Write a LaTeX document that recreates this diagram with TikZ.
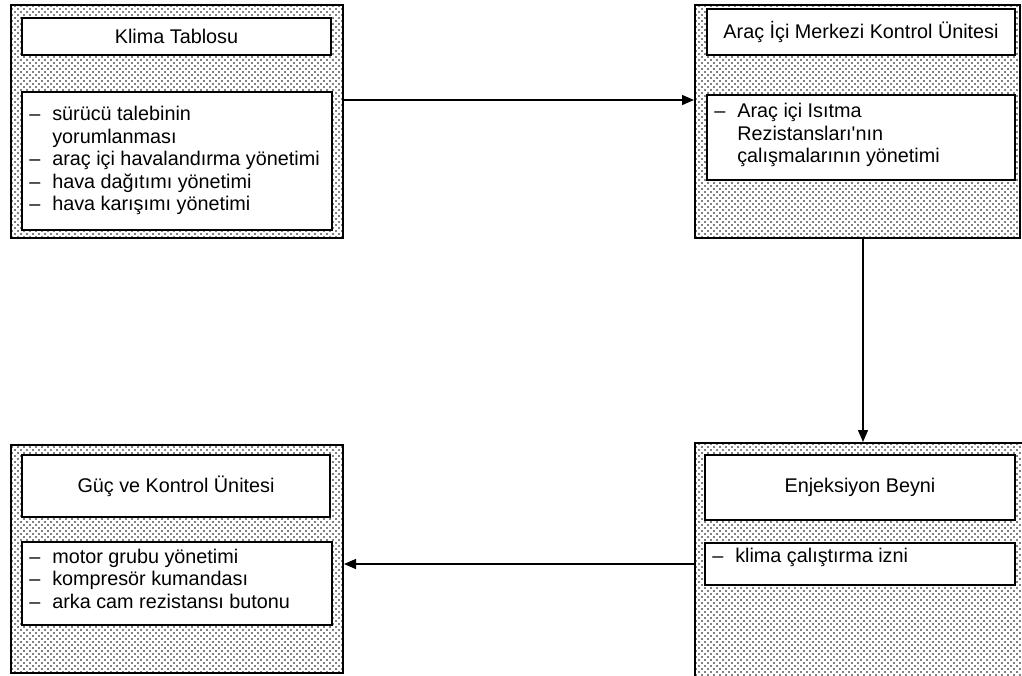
\documentclass[tikz,border=0pt]{standalone}
\usepackage{fontspec}
\setmainfont{Liberation Sans}
\usetikzlibrary{patterns,arrows.meta}
\pgfdeclarepatternformonly{mydots}{\pgfpoint{-1pt}{-1pt}}{\pgfpoint{5pt}{5pt}}{\pgfpoint{6pt}{6pt}}{%
  \pgfpathcircle{\pgfpoint{0pt}{0pt}}{0.9pt}%
  \pgfpathcircle{\pgfpoint{3pt}{3pt}}{0.9pt}%
  \pgfusepath{fill}}
\tikzset{
  outerbox/.style={draw, line width=2pt, pattern=mydots, pattern color=black, inner sep=0pt},
  innerbox/.style={draw, line width=1.8pt, fill=white, inner sep=0pt, font=\fontsize{19.8}{22.5}\selectfont},
  listtext/.style={anchor=north west, inner sep=0pt, align=left, font=\fontsize{19.8}{22.5}\selectfont},
  arr/.style={line width=1.4pt, -{Triangle[length=12pt,width=10pt]}}
}
\newcommand{\dashitem}{\makebox[23pt][l]{–}}
\newcommand{\noitem}{\makebox[23pt][l]{}}
\begin{document}
\begin{tikzpicture}[x=1pt,y=-1pt]
\useasboundingbox (0,0) rectangle (1022,675);
% outer boxes
\node[outerbox, minimum width=332pt, minimum height=233pt] (A) at (177,121.5) {};
\node[outerbox, minimum width=325pt, minimum height=233pt] (B) at (857.5,121.5) {};
\node[outerbox, minimum width=332pt, minimum height=228pt] (C) at (177,559) {};
\node[outerbox, minimum width=335pt, minimum height=242pt] (D) at (862.5,564) {};
% titles
\node[innerbox, minimum width=309pt, minimum height=37pt] (At) at (176.5,36.5) {Klima Tablosu};
\node[innerbox, minimum width=308pt, minimum height=46pt] (Bt) at (861,32) {Araç İçi Merkezi Kontrol Ünitesi};
\node[innerbox, minimum width=308pt, minimum height=62pt] (Ct) at (176,486) {Güç ve Kontrol Ünitesi};
\node[innerbox, minimum width=310pt, minimum height=65pt] (Dt) at (860,487.5) {Enjeksiyon Beyni};
% lists
\node[innerbox, minimum width=310pt, minimum height=138pt] (Al) at (177,161) {};
\node[innerbox, minimum width=308pt, minimum height=85pt] (Bl) at (861,137.5) {};
\node[innerbox, minimum width=310pt, minimum height=83pt] (Cl) at (177,583.5) {};
\node[innerbox, minimum width=310pt, minimum height=42pt] (Dl) at (860,564) {};
% list texts
\node[listtext] (Ax) at ([xshift=8pt,yshift=-13.5pt]Al.north west) {\strut\dashitem sürücü talebinin\\\noitem yorumlanması\\\dashitem araç içi havalandırma yönetimi\\\dashitem hava dağıtımı yönetimi\\\dashitem hava karışımı yönetimi};
\node[listtext] (Bx) at ([xshift=8pt,yshift=-7.75pt]Bl.north west) {\strut\dashitem Araç içi Isıtma\\\noitem Rezistansları\textquotesingle nın\\\noitem çalışmalarının yönetimi};
\node[listtext] (Cx) at ([xshift=8pt,yshift=-6.25pt]Cl.north west) {\strut\dashitem motor grubu yönetimi\\\dashitem kompresör kumandası\\\dashitem arka cam rezistansı butonu};
\node[listtext] (Dx) at ([xshift=8pt,yshift=-4.25pt]Dl.north west) {\strut\dashitem klima çalıştırma izni};
% connectors
\draw[arr] ([yshift=21.5pt]A.east) -- ([yshift=21.5pt]B.west);
\draw[arr] ([xshift=5.5pt]B.south) -- ([xshift=5.5pt]B.south |- D.north);
\draw[arr] (D.west) -- (C.east |- D.west);
\end{tikzpicture}
\end{document}
